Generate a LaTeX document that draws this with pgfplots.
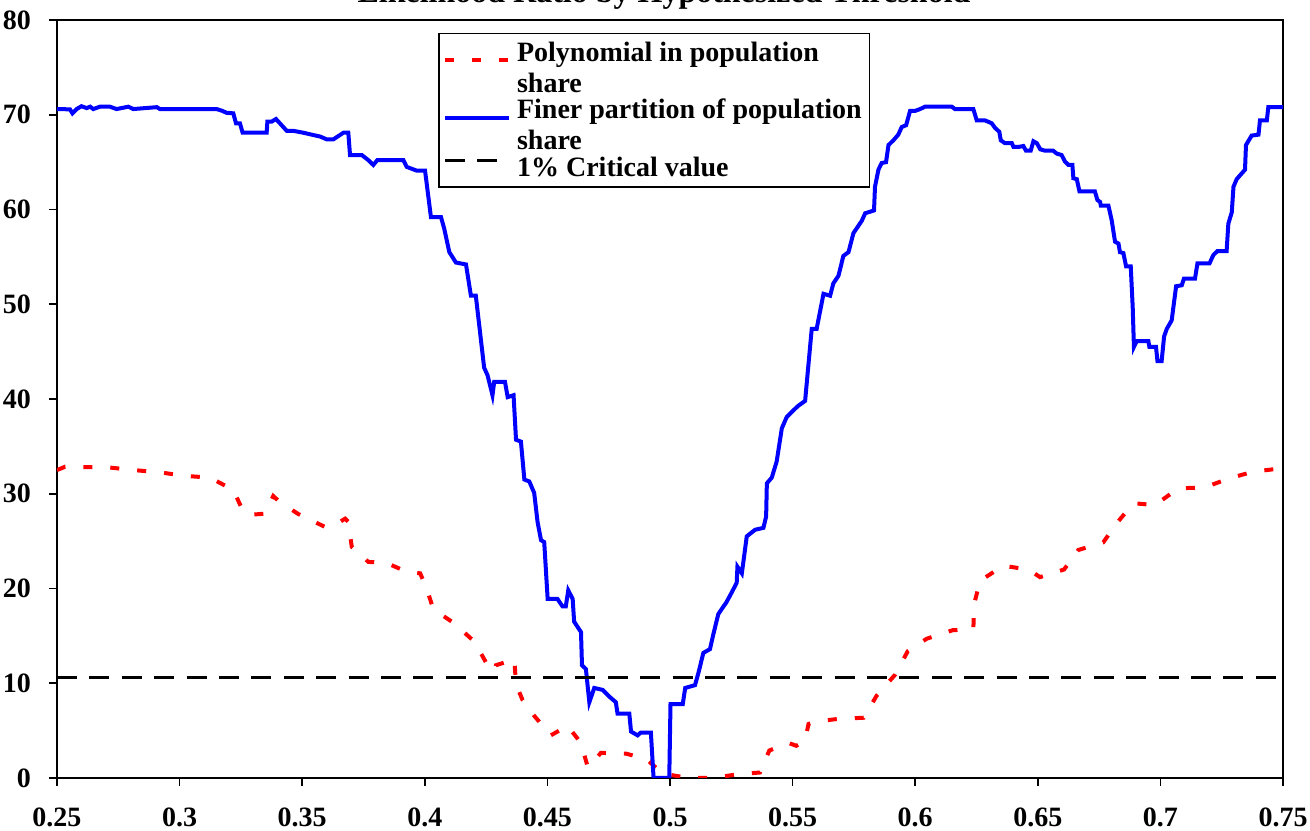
\documentclass[border=0pt]{standalone}
\usepackage{fontspec}
\setmainfont{Liberation Serif}
\usepackage{pgfplots}
\pgfplotsset{compat=1.18}
\begin{document}
\begin{tikzpicture}
\begin{axis}[
  scale only axis,
  width=613pt, height=379pt,
  xmin=0.25, xmax=0.75, ymin=0, ymax=80,
  xtick={0.25,0.3,0.35,0.4,0.45,0.5,0.55,0.6,0.65,0.7,0.75},
  xticklabels={0.25,0.3,0.35,0.4,0.45,0.5,0.55,0.6,0.65,0.7,0.75},
  ytick={0,10,20,30,40,50,60,70,80},
  xtick pos=left, ytick pos=left,
  tick align=outside,
  major tick length=4pt,
  tick style={black, line width=0.8pt},
  axis line style={black, line width=0.8pt},
  /pgf/number format/assume math mode=true,
  ticklabel style={font=\fontsize{14}{16}\selectfont\bfseries},
  yticklabel style={xshift=-5.5pt},
  xticklabel style={yshift=-7.5pt},
  legend style={
    at={(rel axis cs:0.311,0.983)}, anchor=north west,
    draw=black, line width=0.8pt, fill=white,
    font=\fontsize{14}{15.5}\selectfont\bfseries,
    cells={align=left, anchor=west},
    inner xsep=2pt, inner ysep=2pt, row sep=-2pt, column sep=1pt,
  },
  legend image code/.code={\draw[#1] (0pt,4pt) -- (32pt,4pt);},
]
\addplot[red, line width=2pt, dash pattern=on 4.5pt off 9pt] coordinates {
(0.25,32.5) (0.2533,32.85) (0.2594,32.8) (0.2703,32.8) (0.2811,32.5) (0.292,32.26) (0.3015,31.9) (0.3124,31.7) (0.3219,30.4) (0.326,28.1) (0.33,27.8) (0.3348,27.9) (0.3382,29.76) (0.3407,29.16) (0.3484,27.86) (0.3593,26.5) (0.3627,26.6) (0.3675,27.37) (0.3688,27.05) (0.3702,24.4) (0.377,22.8) (0.3838,22.76) (0.3926,21.77) (0.3981,21.6) (0.4005,20.2) (0.4035,17.8) (0.4116,16.4) (0.4202,14.4) (0.4256,11.9) (0.4286,11.3) (0.429,11.9) (0.4351,12.4) (0.4365,12.55) (0.4372,9.9) (0.4399,8.2) (0.4446,6.57) (0.4514,4.5) (0.4582,5.5) (0.4637,3.7) (0.4664,1.2) (0.4671,1.2) (0.4718,2.65) (0.482,2.57) (0.4902,2.03) (0.497,0.46) (0.5078,0) (0.5177,0) (0.5272,0.38) (0.5367,0.58) (0.5405,2.9) (0.5483,3.7) (0.5515,3.4) (0.555,3.9) (0.5565,5.7) (0.5592,5.95) (0.5687,6.24) (0.579,6.36) (0.5843,8.7) (0.5918,10.9) (0.597,13.4) (0.6047,14.7) (0.6153,15.6) (0.6237,15.7) (0.6241,18.4) (0.6264,20.8) (0.6359,22.4) (0.6462,22.0) (0.6509,21.2) (0.6607,22.0) (0.6665,24.06) (0.6767,24.87) (0.6822,26.9) (0.689,29.0) (0.6978,28.8) (0.7073,30.57) (0.7182,30.67) (0.7277,31.6) (0.7379,32.33) (0.7457,32.57) (0.75,32.6)
};
\addlegendentry{Polynomial in population\\share}
\addplot[blue, line width=2pt] coordinates {
(0.25,70.6) (0.2553,70.57) (0.2563,70.15) (0.258,70.6) (0.26,70.9) (0.2621,70.7) (0.2635,70.85) (0.2648,70.6) (0.2675,70.85) (0.2716,70.85) (0.2743,70.6) (0.2791,70.85) (0.2811,70.6) (0.2907,70.8) (0.292,70.6) (0.3151,70.6) (0.3172,70.43) (0.3192,70.2) (0.3219,70.15) (0.323,69.1) (0.3246,69.1) (0.3257,68.1) (0.3355,68.1) (0.3358,69.27) (0.3375,69.27) (0.3393,69.55) (0.3409,69.1) (0.3437,68.3) (0.3464,68.3) (0.3505,68.1) (0.3545,67.86) (0.3573,67.7) (0.36,67.4) (0.3627,67.4) (0.3654,67.86) (0.3668,68.1) (0.3688,68.1) (0.3695,65.75) (0.3743,65.75) (0.377,65.2) (0.379,64.7) (0.3806,65.2) (0.3913,65.2) (0.3926,64.5) (0.3967,64.1) (0.4001,64.1) (0.4025,59.2) (0.4066,59.2) (0.4079,58.0) (0.41,55.5) (0.4127,54.4) (0.4168,54.2) (0.4188,50.9) (0.4208,50.9) (0.4242,43.3) (0.4256,42.5) (0.4276,40.4) (0.4283,41.8) (0.4327,41.8) (0.4338,40.2) (0.4362,40.4) (0.4372,35.7) (0.4392,35.5) (0.4406,31.5) (0.4426,31.3) (0.4446,30.1) (0.446,27.0) (0.4474,25.1) (0.4487,24.9) (0.4501,18.9) (0.4541,18.9) (0.4562,18.1) (0.4575,18.1) (0.4585,19.8) (0.4603,18.9) (0.4609,16.5) (0.4637,15.4) (0.4641,11.9) (0.4657,11.5) (0.4671,8.0) (0.4691,9.5) (0.4725,9.3) (0.4752,8.6) (0.4779,8.0) (0.4786,6.8) (0.4834,6.8) (0.4841,4.9) (0.4868,4.5) (0.4881,4.8) (0.4922,4.8) (0.4933,0) (0.4997,0) (0.5002,7.8) (0.5052,7.8) (0.5062,9.5) (0.5102,9.8) (0.5116,11.1) (0.5136,13.2) (0.5163,13.6) (0.5177,15.2) (0.5197,17.3) (0.5218,18.1) (0.5229,18.5) (0.5252,19.6) (0.5272,20.6) (0.5275,22.3) (0.5293,21.6) (0.5313,25.5) (0.5347,26.2) (0.5381,26.4) (0.5392,27.6) (0.5395,31.1) (0.5415,31.7) (0.5435,33.4) (0.5456,36.9) (0.5476,38.1) (0.5503,38.8) (0.5524,39.3) (0.5551,39.8) (0.5578,47.4) (0.5598,47.4) (0.5626,51.1) (0.5653,50.9) (0.5666,52.2) (0.5687,53.0) (0.5707,55.1) (0.5728,55.5) (0.5748,57.5) (0.5782,58.8) (0.5796,59.6) (0.5832,59.9) (0.5836,62.4) (0.585,64.2) (0.5863,64.9) (0.5881,65.0) (0.5891,66.8) (0.5911,67.3) (0.5931,67.9) (0.5945,68.7) (0.5963,68.9) (0.5979,70.4) (0.5999,70.4) (0.602,70.6) (0.604,70.85) (0.6149,70.85) (0.6162,70.6) (0.6237,70.6) (0.6251,69.4) (0.6285,69.4) (0.6312,69.1) (0.6326,68.6) (0.6343,68.2) (0.6349,67.3) (0.6366,67.0) (0.6394,67.0) (0.6401,66.6) (0.6421,66.6) (0.6441,66.7) (0.6452,66.2) (0.6471,66.2) (0.6482,67.2) (0.6496,67.0) (0.651,66.35) (0.653,66.2) (0.6563,66.2) (0.6577,65.9) (0.6597,65.75) (0.6611,65.05) (0.6625,64.7) (0.6641,64.7) (0.6645,63.3) (0.6659,63.2) (0.667,61.9) (0.6733,61.9) (0.6743,61.0) (0.6754,60.8) (0.6757,60.4) (0.6788,60.4) (0.6801,58.9) (0.6815,56.6) (0.6829,56.4) (0.6835,55.5) (0.6849,55.4) (0.686,54.0) (0.6879,54.0) (0.6887,49.7) (0.6892,45.5) (0.6903,46.1) (0.6951,46.1) (0.6955,45.5) (0.6982,45.5) (0.6988,44.0) (0.7005,44.0) (0.7015,46.6) (0.7026,47.4) (0.7046,48.3) (0.7064,51.9) (0.7087,52.0) (0.7096,52.7) (0.7141,52.7) (0.7151,54.3) (0.72,54.3) (0.7216,55.2) (0.7232,55.6) (0.727,55.6) (0.7277,58.5) (0.7291,59.7) (0.7298,62.4) (0.7311,63.2) (0.7345,64.2) (0.7349,66.8) (0.7372,67.8) (0.74,67.9) (0.7406,69.4) (0.7434,69.4) (0.744,70.8) (0.75,70.8)
};
\addlegendentry{Finer partition of population\\share}
\addplot[black, line width=1.5pt, dash pattern=on 10pt off 6.2pt] coordinates {(0.25,10.59) (0.75,10.59)};
\addlegendentry{1\% Critical value}
\end{axis}
\node[anchor=base, font=\fontsize{16}{18}\selectfont\bfseries] at ([xshift=-3pt,yshift=8.5pt]current axis.north) {Likelihood Ratio by Hypothesized Threshold};
\pgfresetboundingbox
\path[use as bounding box] ([xshift=-28.5pt,yshift=-26.5pt]current axis.south west) rectangle ([xshift=13.5pt,yshift=10pt]current axis.north east);
\end{tikzpicture}
\end{document}
